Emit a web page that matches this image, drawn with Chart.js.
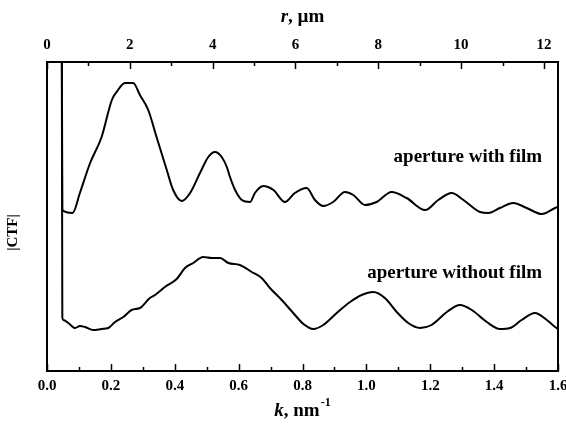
<!DOCTYPE html>
<html>
<head>
<meta charset="utf-8">
<script src="https://cdn.jsdelivr.net/npm/chart.js@4/dist/chart.umd.min.js"></script>
<style>
  body { margin: 0; background: #fff; }
  #wrap { width: 566px; height: 430px; }
</style>
</head>
<body>
<div id="wrap"><canvas id="ctfChart" width="566" height="430"></canvas></div>
<script>
// k (nm^-1) and |CTF| (arbitrary units)
const kWithFilm = [0.046, 0.048, 0.080, 0.103, 0.135, 0.171, 0.203, 0.218, 0.244, 0.270, 0.291, 0.317, 0.343, 0.375, 0.395, 0.422, 0.448, 0.479, 0.505, 0.526, 0.547, 0.563, 0.573, 0.589, 0.610, 0.636, 0.651, 0.677, 0.709, 0.745, 0.776, 0.813, 0.839, 0.865, 0.896, 0.933, 0.959, 0.996, 1.032, 1.079, 1.126, 1.184, 1.225, 1.267, 1.304, 1.356, 1.382, 1.418, 1.460, 1.502, 1.549, 1.591, 1.600];
const ctfWithFilm = [400, 161, 158, 178, 208, 234, 271, 279, 288, 288, 276, 261, 234, 201, 181, 170, 178, 198, 214, 219, 214, 204, 194, 181, 171, 169, 178, 185, 181, 169, 178, 183, 171, 165, 169, 179, 176, 166, 169, 179, 173, 161, 171, 178, 171, 159, 158, 163, 168, 163, 157, 163, 164];

const kWithoutFilm = [0.046, 0.048, 0.051, 0.067, 0.088, 0.103, 0.119, 0.145, 0.171, 0.192, 0.213, 0.239, 0.265, 0.291, 0.322, 0.338, 0.369, 0.406, 0.432, 0.458, 0.489, 0.516, 0.542, 0.568, 0.604, 0.641, 0.672, 0.698, 0.735, 0.771, 0.803, 0.834, 0.865, 0.907, 0.949, 0.985, 1.022, 1.058, 1.095, 1.131, 1.168, 1.204, 1.252, 1.293, 1.330, 1.377, 1.418, 1.450, 1.486, 1.528, 1.565, 1.591, 1.600];
const ctfWithoutFilm = [400, 54, 51, 48, 43, 45, 44, 41, 42, 43, 49, 54, 61, 63, 73, 76, 84, 92, 103, 108, 114, 113, 113, 108, 106, 99, 93, 83, 71, 58, 47, 42, 46, 58, 69, 76, 79, 73, 59, 48, 43, 46, 59, 66, 61, 49, 42, 43, 51, 58, 51, 44, 42];

const seriesLabels = ['aperture with film', 'aperture without film'];
const labelPos = [[1.55, 214], [1.55, 98]];

const serif = "'Liberation Serif', 'Times New Roman', serif";

const toPoints = (xs, ys) => xs.map((x, i) => ({ x: x, y: ys[i] }));

// ticks pointing into the plot, box and titles
const framePlugin = {
    id: 'frame',
    afterDraw(chart) {
        const ctx = chart.ctx;
        const a = chart.chartArea;
        const xs = chart.scales.x;
        const rs = chart.scales.x2;
        ctx.save();
        ctx.strokeStyle = '#000';
        ctx.lineWidth = 1.5;
        xs.ticks.forEach(t => {
            const px = Math.round(xs.getPixelForValue(t.value)) + 0.5;
            const major = Math.round(t.value * 10) % 2 === 0;
            ctx.beginPath();
            ctx.moveTo(px, a.bottom);
            ctx.lineTo(px, a.bottom - (major ? 7 : 4));
            ctx.stroke();
        });
        rs.ticks.forEach(t => {
            const px = Math.round(rs.getPixelForValue(t.value)) + 0.5;
            const major = Math.round(t.value) % 2 === 0;
            ctx.beginPath();
            ctx.moveTo(px, a.top);
            ctx.lineTo(px, a.top + (major ? 7 : 4));
            ctx.stroke();
        });
        ctx.lineWidth = 2;
        ctx.strokeRect(a.left, a.top, a.right - a.left, a.bottom - a.top);

        ctx.fillStyle = '#000';
        ctx.textBaseline = 'middle';

        // series labels
        ctx.font = 'bold 19px ' + serif;
        ctx.textAlign = 'right';
        const ys = chart.scales.y;
        seriesLabels.forEach((txt, i) => {
            ctx.fillText(txt, xs.getPixelForValue(labelPos[i][0]), ys.getPixelForValue(labelPos[i][1]));
        });

        // top title: r, µm
        const cx = (a.left + a.right) / 2;
        ctx.textAlign = 'left';
        ctx.font = 'italic bold 19px ' + serif;
        const rW = ctx.measureText('r').width;
        ctx.font = 'bold 19px ' + serif;
        const restR = ', \u00b5m';
        const rTot = rW + ctx.measureText(restR).width;
        let x0 = cx - rTot / 2;
        ctx.font = 'italic bold 19px ' + serif;
        ctx.fillText('r', x0, 17);
        ctx.font = 'bold 19px ' + serif;
        ctx.fillText(restR, x0 + rW, 17);

        // bottom title: k, nm^-1
        ctx.font = 'italic bold 19px ' + serif;
        const kW = ctx.measureText('k').width;
        ctx.font = 'bold 19px ' + serif;
        const restK = ', nm';
        const kRest = ctx.measureText(restK).width;
        ctx.font = 'bold 12px ' + serif;
        const supW = ctx.measureText('-1').width;
        const kTot = kW + kRest + supW + 1;
        x0 = cx - kTot / 2;
        const yk = 411;
        ctx.font = 'italic bold 19px ' + serif;
        ctx.fillText('k', x0, yk);
        ctx.font = 'bold 19px ' + serif;
        ctx.fillText(restK, x0 + kW, yk);
        ctx.font = 'bold 12px ' + serif;
        ctx.fillText('-1', x0 + kW + kRest + 1, yk - 8);

        // y title
        ctx.font = 'bold 15px ' + serif;
        ctx.textAlign = 'center';
        ctx.translate(13, (a.top + a.bottom) / 2 + 16);
        ctx.rotate(-Math.PI / 2);
        ctx.fillText('|CTF|', 0, 0);
        ctx.restore();
    }
};

new Chart(document.getElementById('ctfChart'), {
    type: 'line',
    data: {
        datasets: [
            { label: seriesLabels[0], data: toPoints(kWithFilm, ctfWithFilm) },
            { label: seriesLabels[1], data: toPoints(kWithoutFilm, ctfWithoutFilm) }
        ]
    },
    options: {
        responsive: false,
        animation: false,
        layout: { padding: { left: 47, right: 8, top: 0, bottom: 0 } },
        elements: {
            line: { borderColor: '#000', borderWidth: 2, cubicInterpolationMode: 'monotone', fill: false },
            point: { radius: 0 }
        },
        plugins: { legend: { display: false }, tooltip: { enabled: false } },
        scales: {
            x: {
                type: 'linear',
                position: 'bottom',
                min: 0,
                max: 1.6,
                grid: { display: false, drawTicks: false },
                border: { display: false },
                ticks: {
                    stepSize: 0.1,
                    autoSkip: false,
                    maxRotation: 0,
                    padding: 6,
                    color: '#000',
                    font: { family: serif, size: 15, weight: 'bold' },
                    callback: v => (Math.round(v * 10) % 2 === 0 ? v.toFixed(1) : '')
                },
                afterFit: s => { s.height = 59; s.paddingRight = 0; }
            },
            x2: {
                type: 'linear',
                axis: 'x',
                position: 'top',
                min: 0,
                max: 12.34,
                grid: { display: false, drawTicks: false },
                border: { display: false },
                ticks: {
                    stepSize: 1,
                    includeBounds: false,
                    autoSkip: false,
                    maxRotation: 0,
                    padding: 8,
                    color: '#000',
                    font: { family: serif, size: 15, weight: 'bold' },
                    callback: v => (Math.round(v) % 2 === 0 ? String(Math.round(v)) : '')
                },
                afterFit: s => { s.height = 62; s.paddingRight = 0; }
            },
            y: {
                display: false,
                min: 0,
                max: 309
            }
        }
    },
    plugins: [framePlugin]
});
</script>
</body>
</html>
